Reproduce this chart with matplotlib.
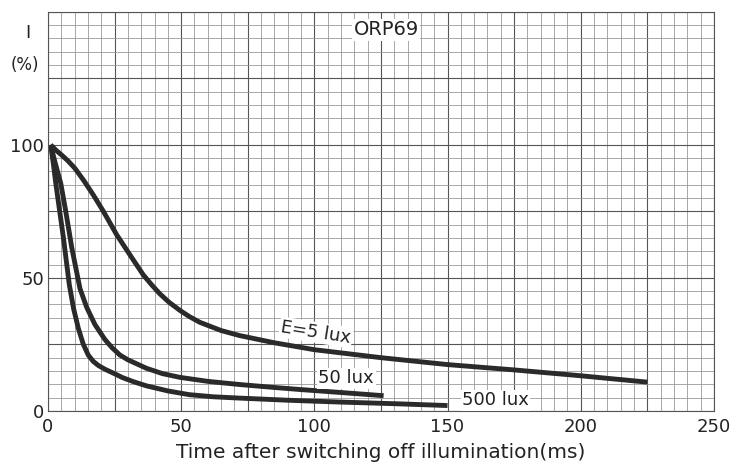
import numpy as np
import matplotlib
matplotlib.use("Agg")
import matplotlib.pyplot as plt

# curve data (time in ms, relative current in %)
t_5lux = [1, 3, 5.1, 7.5, 10.1, 13.5, 17, 20.8, 25.8, 30.8, 35.8, 39, 42, 45.5, 49.5, 53, 57,
          65, 72, 85, 100, 125, 150, 175, 200, 225]
i_5lux = [100, 98, 96.2, 94, 91.2, 86.5, 81.2, 75, 66.2, 58.6, 51.1, 47.3, 44, 40.8, 37.8, 35.5, 33.3,
          30.2, 28.3, 25.6, 23, 20, 17.4, 15.4, 13.2, 10.8]

t_50lux = [1, 2.5, 4.8, 6.5, 8.0, 8.9, 10.1, 12.0, 14.5, 17.6, 21.4, 24, 27, 30, 37, 43,
           49.5, 60, 72, 85, 95, 110, 126]
i_50lux = [100, 94, 85.5, 76, 67, 61.5, 55.5, 46, 39, 32.5, 26.8, 23.8, 21, 19.2, 16, 14,
           12.6, 11.1, 9.9, 8.8, 8.0, 6.9, 5.7]

t_500lux = [1, 2, 3, 4.4, 5.8, 6.8, 8, 9.6, 11.4, 13.2, 15.1, 17, 19, 21.5, 24.5, 28, 32,
            37, 45, 53, 62, 72, 90, 110, 130, 150]
i_500lux = [100, 93, 85, 75, 65, 57, 47.5, 38.5, 31, 25.2, 21, 18.6, 17, 15.6, 14.2, 12.5, 11,
            9.4, 7.5, 6.1, 5.3, 4.8, 4.0, 3.3, 2.7, 2.0]

x_ticks = [0, 50, 100, 150, 200, 250]
y_ticks = [0, 50, 100]

fig = plt.figure(figsize=(7.44, 4.75), dpi=100)
ax = fig.add_axes([0.0645, 0.135, 0.895, 0.84])

ax.set_xlim(0, 250)
ax.set_ylim(0, 150)

# graph paper grid
ax.set_xticks(np.arange(0, 251, 25))
ax.set_yticks(np.arange(0, 151, 25))
ax.set_xticks(np.arange(0, 251, 5), minor=True)
ax.set_yticks(np.arange(0, 151, 5), minor=True)
ax.grid(which="major", color="#555555", linewidth=0.8)
ax.grid(which="minor", color="#9a9a9a", linewidth=0.6)
ax.tick_params(which="both", length=0)
ax.set_xticklabels([str(v) if v in x_ticks else "" for v in range(0, 251, 25)], fontsize=13)
ax.set_yticklabels([str(v) if v in y_ticks else "" for v in range(0, 151, 25)], fontsize=13)
ax.tick_params(axis="x", pad=5, colors="#222222")
ax.tick_params(axis="y", pad=3, colors="#222222")
for s in ax.spines.values():
    s.set_color("#555555")
    s.set_linewidth(0.8)
ax.set_axisbelow(True)

lc = "#2a2a2a"
for tt, ii in [(t_5lux, i_5lux), (t_50lux, i_50lux), (t_500lux, i_500lux)]:
    ax.plot(tt, ii, color=lc, lw=3.5, solid_capstyle="butt", solid_joinstyle="round")

box = dict(facecolor="white", edgecolor="none", pad=1.0)
ax.text(100.6, 29.5, "E=5 lux", fontsize=13, ha="center", va="center", rotation=-9, bbox=box, color="#222222")
ax.text(112, 12.2, "50 lux", fontsize=13, ha="center", va="center", bbox=box, color="#222222")
ax.text(168, 4.0, "500 lux", fontsize=13, ha="center", va="center", bbox=box, color="#222222")
ax.text(127, 143.3, "ORP69", fontsize=14, ha="center", va="center", bbox=box, color="#222222")

ax.text(-7.5, 142, "I", fontsize=13, ha="center", va="center", clip_on=False, color="#222222")
ax.text(-8.5, 130, "(%)", fontsize=12, ha="center", va="center", clip_on=False, color="#222222")

ax.set_xlabel("Time after switching off illumination(ms)", fontsize=14.5, labelpad=5, color="#222222")

fig.savefig("out.png", dpi=100)
